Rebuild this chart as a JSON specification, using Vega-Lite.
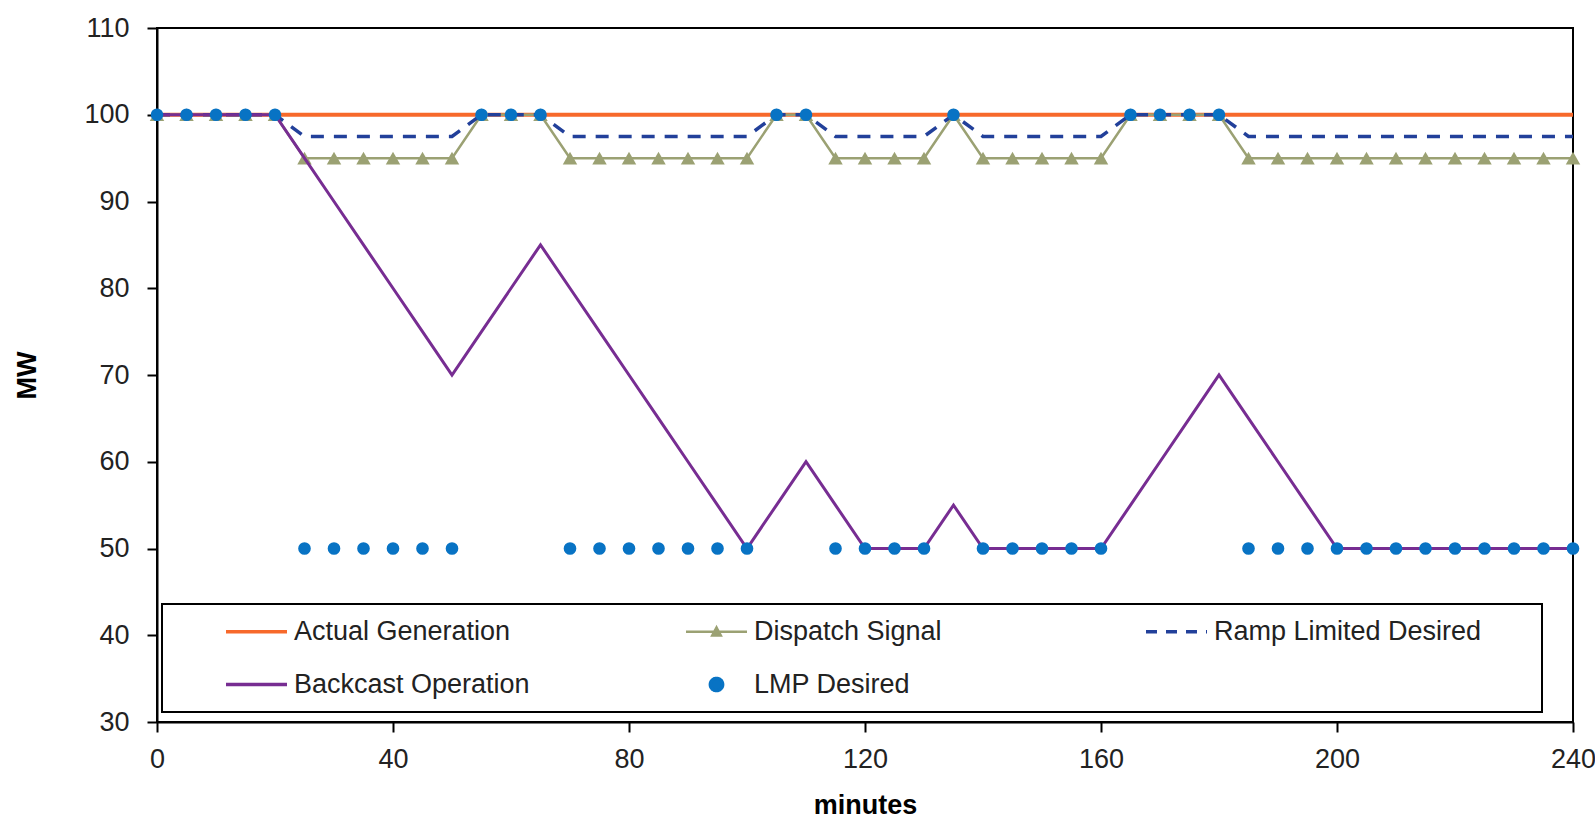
{
  "$schema": "https://vega.github.io/schema/vega-lite/v6.json",
  "width": 1416,
  "height": 694,
  "autosize": "none",
  "padding": {"left": 157, "top": 28, "right": 22, "bottom": 96},
  "background": "white",
  "config": {
    "view": {"stroke": "black", "strokeWidth": 2},
    "axis": {
      "domainColor": "black", "domainWidth": 2, "tickColor": "black", "tickWidth": 2, "tickSize": 10,
      "labelFont": "Liberation Sans", "labelFontSize": 27, "labelColor": "#222222",
      "titleFont": "Liberation Sans", "titleFontWeight": "bold", "titleFontSize": 27, "titleColor": "black",
      "grid": false
    }
  },
  "data": {"values": [
    {"t": 0, "a": 100, "d": 100, "r": 100, "b": 100, "l": 100},
    {"t": 5, "a": 100, "d": 100, "r": 100, "b": 100, "l": 100},
    {"t": 10, "a": 100, "d": 100, "r": 100, "b": 100, "l": 100},
    {"t": 15, "a": 100, "d": 100, "r": 100, "b": 100, "l": 100},
    {"t": 20, "a": 100, "d": 100, "r": 100, "b": 100, "l": 100},
    {"t": 25, "a": 100, "d": 95, "r": 97.5, "b": 95, "l": 50},
    {"t": 30, "a": 100, "d": 95, "r": 97.5, "b": 90, "l": 50},
    {"t": 35, "a": 100, "d": 95, "r": 97.5, "b": 85, "l": 50},
    {"t": 40, "a": 100, "d": 95, "r": 97.5, "b": 80, "l": 50},
    {"t": 45, "a": 100, "d": 95, "r": 97.5, "b": 75, "l": 50},
    {"t": 50, "a": 100, "d": 95, "r": 97.5, "b": 70, "l": 50},
    {"t": 55, "a": 100, "d": 100, "r": 100, "b": 75, "l": 100},
    {"t": 60, "a": 100, "d": 100, "r": 100, "b": 80, "l": 100},
    {"t": 65, "a": 100, "d": 100, "r": 100, "b": 85, "l": 100},
    {"t": 70, "a": 100, "d": 95, "r": 97.5, "b": 80, "l": 50},
    {"t": 75, "a": 100, "d": 95, "r": 97.5, "b": 75, "l": 50},
    {"t": 80, "a": 100, "d": 95, "r": 97.5, "b": 70, "l": 50},
    {"t": 85, "a": 100, "d": 95, "r": 97.5, "b": 65, "l": 50},
    {"t": 90, "a": 100, "d": 95, "r": 97.5, "b": 60, "l": 50},
    {"t": 95, "a": 100, "d": 95, "r": 97.5, "b": 55, "l": 50},
    {"t": 100, "a": 100, "d": 95, "r": 97.5, "b": 50, "l": 50},
    {"t": 105, "a": 100, "d": 100, "r": 100, "b": 55, "l": 100},
    {"t": 110, "a": 100, "d": 100, "r": 100, "b": 60, "l": 100},
    {"t": 115, "a": 100, "d": 95, "r": 97.5, "b": 55, "l": 50},
    {"t": 120, "a": 100, "d": 95, "r": 97.5, "b": 50, "l": 50},
    {"t": 125, "a": 100, "d": 95, "r": 97.5, "b": 50, "l": 50},
    {"t": 130, "a": 100, "d": 95, "r": 97.5, "b": 50, "l": 50},
    {"t": 135, "a": 100, "d": 100, "r": 100, "b": 55, "l": 100},
    {"t": 140, "a": 100, "d": 95, "r": 97.5, "b": 50, "l": 50},
    {"t": 145, "a": 100, "d": 95, "r": 97.5, "b": 50, "l": 50},
    {"t": 150, "a": 100, "d": 95, "r": 97.5, "b": 50, "l": 50},
    {"t": 155, "a": 100, "d": 95, "r": 97.5, "b": 50, "l": 50},
    {"t": 160, "a": 100, "d": 95, "r": 97.5, "b": 50, "l": 50},
    {"t": 165, "a": 100, "d": 100, "r": 100, "b": 55, "l": 100},
    {"t": 170, "a": 100, "d": 100, "r": 100, "b": 60, "l": 100},
    {"t": 175, "a": 100, "d": 100, "r": 100, "b": 65, "l": 100},
    {"t": 180, "a": 100, "d": 100, "r": 100, "b": 70, "l": 100},
    {"t": 185, "a": 100, "d": 95, "r": 97.5, "b": 65, "l": 50},
    {"t": 190, "a": 100, "d": 95, "r": 97.5, "b": 60, "l": 50},
    {"t": 195, "a": 100, "d": 95, "r": 97.5, "b": 55, "l": 50},
    {"t": 200, "a": 100, "d": 95, "r": 97.5, "b": 50, "l": 50},
    {"t": 205, "a": 100, "d": 95, "r": 97.5, "b": 50, "l": 50},
    {"t": 210, "a": 100, "d": 95, "r": 97.5, "b": 50, "l": 50},
    {"t": 215, "a": 100, "d": 95, "r": 97.5, "b": 50, "l": 50},
    {"t": 220, "a": 100, "d": 95, "r": 97.5, "b": 50, "l": 50},
    {"t": 225, "a": 100, "d": 95, "r": 97.5, "b": 50, "l": 50},
    {"t": 230, "a": 100, "d": 95, "r": 97.5, "b": 50, "l": 50},
    {"t": 235, "a": 100, "d": 95, "r": 97.5, "b": 50, "l": 50},
    {"t": 240, "a": 100, "d": 95, "r": 97.5, "b": 50, "l": 50}
  ]},
  "encoding": {
    "x": {"field": "t", "type": "quantitative",
      "scale": {"domain": [0, 240], "nice": false, "zero": false},
      "axis": {"values": [0, 40, 80, 120, 160, 200, 240], "title": "minutes", "labelPadding": 14, "titlePadding": 20, "labelFlush": false}}
  },
  "layer": [
    {
      "mark": {"type": "line", "strokeWidth": 4},
      "encoding": {
        "y": {"field": "a", "type": "quantitative",
          "scale": {"domain": [30, 110], "nice": false, "zero": false},
          "axis": {"values": [30, 40, 50, 60, 70, 80, 90, 100, 110], "title": "MW", "labelPadding": 18, "titlePadding": 42, "labelFlush": false}},
        "color": {"datum": "Actual Generation", "type": "nominal",
          "scale": {
            "domain": ["Actual Generation", "Dispatch Signal", "Ramp Limited Desired", "Backcast Operation", "LMP Desired"],
            "range": ["#F7692B", "#9BA173", "#22409A", "#772D92", "#0873C4"]
          },
          "legend": {
            "title": " ",
            "titleOrient": "right",
            "titlePadding": 47,
            "orient": "none",
            "direction": "horizontal",
            "legendX": 5,
            "legendY": 576,
            "columns": 3,
            "gridAlign": "all",
            "columnPadding": 74,
            "rowPadding": 25,
            "padding": 14,
            "strokeColor": "black",
            "fillColor": "white",
            "symbolType": "stroke",
            "symbolSize": 3721,
            "symbolOffset": 67,
            "labelOffset": 24,
            "labelFont": "Liberation Sans",
            "labelFontSize": 27,
            "labelColor": "#222222",
            "labelLimit": 500,
            "encode": {
              "legend": {"update": {"strokeWidth": {"value": 2}}},
              "symbols": {
                "update": {
                  "shape": {"signal": "datum.value === 'LMP Desired' ? 'circle' : datum.value === 'Dispatch Signal' ? 'M-1,0H1M-0.14,0.12L0,-0.14L0.14,0.12Z' : 'stroke'"},
                  "size": {"signal": "datum.value === 'LMP Desired' ? 150 : 3721"},
                  "fill": {"signal": "datum.value === 'LMP Desired' ? '#0873C4' : datum.value === 'Dispatch Signal' ? '#9BA173' : 'transparent'"},
                  "stroke": {"signal": "datum.value === 'LMP Desired' ? 'transparent' : datum.value === 'Actual Generation' ? '#F7692B' : datum.value === 'Dispatch Signal' ? '#9BA173' : datum.value === 'Ramp Limited Desired' ? '#22409A' : '#772D92'"},
                  "strokeWidth": {"signal": "datum.value === 'Dispatch Signal' ? 2.5 : 3.5"},
                  "strokeDash": {"signal": "datum.value === 'Ramp Limited Desired' ? [11, 9] : [1, 0]"},
                  "opacity": {"value": 1}
                }
              }
            }
          }
        }
      }
    },
    {
      "mark": {"type": "line", "strokeWidth": 2.5, "point": {"shape": "triangle-up", "size": 210, "filled": true}},
      "encoding": {
        "y": {"field": "d", "type": "quantitative"},
        "color": {"datum": "Dispatch Signal", "type": "nominal"}
      }
    },
    {
      "mark": {"type": "line", "strokeWidth": 3.5, "strokeDash": [13, 10]},
      "encoding": {
        "y": {"field": "r", "type": "quantitative"},
        "color": {"datum": "Ramp Limited Desired", "type": "nominal"}
      }
    },
    {
      "mark": {"type": "line", "strokeWidth": 3},
      "encoding": {
        "y": {"field": "b", "type": "quantitative"},
        "color": {"datum": "Backcast Operation", "type": "nominal"}
      }
    },
    {
      "mark": {"type": "point", "filled": true, "size": 160, "opacity": 1},
      "encoding": {
        "y": {"field": "l", "type": "quantitative"},
        "color": {"datum": "LMP Desired", "type": "nominal"}
      }
    }
  ]
}
